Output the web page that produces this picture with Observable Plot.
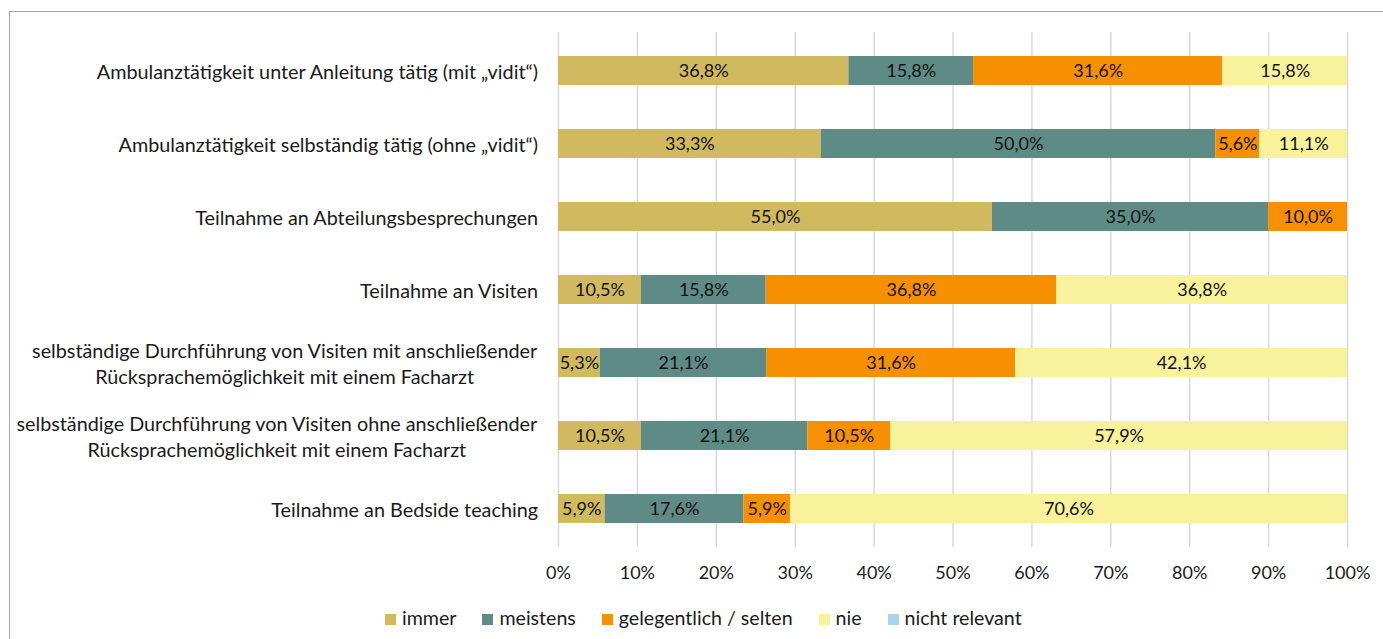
<!DOCTYPE html>
<html><head><meta charset="utf-8">
<script src="https://cdn.jsdelivr.net/npm/d3@7"></script>
<script src="https://cdn.jsdelivr.net/npm/@observablehq/plot@0.6"></script>
<style>
html,body{margin:0;padding:0;background:#fff;overflow:hidden;width:1383px;height:639px;}
#frame{position:absolute;left:9px;top:11px;width:1500px;height:800px;border:1px solid #a6a6a6;box-sizing:border-box;}
#chart{position:absolute;left:0;top:0;}
#legend{position:absolute;top:606px;left:385px;display:flex;justify-content:flex-start;gap:26px;font-family:Lato,sans-serif;font-size:19.6px;line-height:24px;color:#1a1a1a;white-space:nowrap;}
#legend .it{display:flex;align-items:center;gap:6px;}
#legend .sw{width:11px;height:11px;display:inline-block;margin-top:2px;}
</style></head>
<body>
<div id="frame"></div>
<div id="chart"></div>
<div id="legend"></div>
<script>
const categories = [
  "Ambulanztätigkeit unter Anleitung tätig (mit „vidit“)",
  "Ambulanztätigkeit selbständig tätig (ohne „vidit“)",
  "Teilnahme an Abteilungsbesprechungen",
  "Teilnahme an Visiten",
  "selbständige Durchführung von Visiten mit anschließender\nRücksprachemöglichkeit mit einem Facharzt",
  "selbständige Durchführung von Visiten ohne anschließender\nRücksprachemöglichkeit mit einem Facharzt",
  "Teilnahme an Bedside teaching"
];
const seriesNames = ["immer", "meistens", "gelegentlich / selten", "nie", "nicht relevant"];
const seriesColors = ["#D1B960", "#5F8B87", "#F79000", "#F9F29C", "#A9D4EE"];
const immer        = [36.8, 33.3, 55.0, 10.5,  5.3, 10.5,  5.9];
const meistens     = [15.8, 50.0, 35.0, 15.8, 21.1, 21.1, 17.6];
const gelegentlich = [31.6,  5.6, 10.0, 36.8, 31.6, 10.5,  5.9];
const nie          = [15.8, 11.1,  0.0, 36.8, 42.1, 57.9, 70.6];
const nichtRelevant= [ 0,    0,    0,    0,    0,    0,    0  ];
const xTicks = [0, 0.1, 0.2, 0.3, 0.4, 0.5, 0.6, 0.7, 0.8, 0.9, 1];

const seriesValues = [immer, meistens, gelegentlich, nie, nichtRelevant];
const rows = [];
categories.forEach((c, i) => {
  seriesNames.forEach((s, j) => {
    rows.push({cat: c, series: s, value: seriesValues[j][i]});
  });
});
const fmt = v => v.toFixed(1).replace(".", ",") + "%";

const chart = Plot.plot({
  width: 1383, height: 600,
  marginLeft: 558, marginRight: 36, marginTop: 32, marginBottom: 53,
  style: {fontFamily: "Lato, sans-serif", fontSize: "17px", background: "transparent", color: "#1a1a1a"},
  x: {domain: [0, 1], label: null},
  y: {domain: categories, paddingInner: 0.6, paddingOuter: 0.3, axis: null, label: null},
  color: {domain: seriesNames, range: seriesColors},
  marks: [
    Plot.gridX(xTicks, {stroke: "#d9d9d9", strokeOpacity: 1, strokeWidth: 1.5}),
    Plot.barX(rows, Plot.stackX({x: "value", y: "cat", fill: "series", z: "series", order: seriesNames, offset: "normalize"})),
    Plot.text(rows.filter(d => d.value > 0), Plot.stackX({x: "value", y: "cat", z: "series", order: seriesNames, offset: "normalize", text: d => fmt(d.value), fill: "#111", fontSize: 18})),
    Plot.axisX(xTicks, {tickSize: 0, tickPadding: 19, tickFormat: d => Math.round(d * 100) + "%", fontSize: 18, fill: "#1a1a1a"}),
    Plot.text(categories, {y: d => d, text: d => d, frameAnchor: "left", textAnchor: "middle", lineHeight: 1.32, fontSize: 19.8, fill: "#1a1a1a", className: "ylab"})
  ]
});
document.getElementById("chart").appendChild(chart);
// right-align each label block 20px left of the plot area; lines stay centered within the block
chart.querySelectorAll(".ylab text").forEach(t => {
  const r = t.getBoundingClientRect();
  const shift = (558 - 20) - r.right;
  const tr = t.getAttribute("transform") || "";
  t.setAttribute("transform", tr + ` translate(${shift},0)`);
});

const lg = document.getElementById("legend");
seriesNames.forEach((s, i) => {
  const it = document.createElement("span"); it.className = "it";
  const sw = document.createElement("span"); sw.className = "sw"; sw.style.background = seriesColors[i];
  const tx = document.createElement("span"); tx.textContent = s;
  it.appendChild(sw); it.appendChild(tx); lg.appendChild(it);
});
</script>
</body></html>
